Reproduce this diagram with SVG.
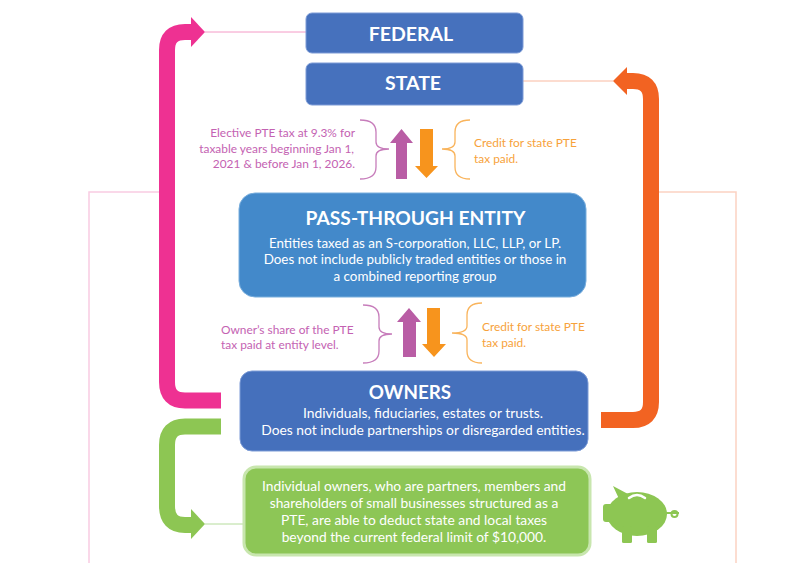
<svg xmlns="http://www.w3.org/2000/svg" width="806" height="563" viewBox="0 0 806 563">
<style>
.t{font-family:Lato,"Open Sans","Liberation Sans",sans-serif;}
.title{font-weight:bold;fill:#fff;text-anchor:middle;}
.sub{fill:#fff;text-anchor:middle;font-size:13.8px;}
.pt{fill:#C462B2;font-size:11.9px;}
.ot{fill:#F7A23B;font-size:11.9px;}
.band{fill:none;stroke-width:16;stroke-linejoin:round;}
.thin{fill:none;stroke-width:1;}
.brace{fill:none;stroke-width:1.3;}
.pig{fill:#8DC653;}
</style>
<rect width="806" height="563" fill="#fff"/>
<g id="connectors">
  <path d="M160 192 H89 V563" fill="none" stroke="#F9CCE2" stroke-width="1.5"/>
  <path d="M659 192 H736 V563" fill="none" stroke="#FCD2C2" stroke-width="1.5"/>
  <path class="thin" d="M205 32 H306" stroke="#F49AC6"/>
  <path class="thin" d="M523 81 H613" stroke="#F9B9A0"/>
  <path class="thin" d="M205 524 H244" stroke="#B5DC9C"/>
  <path class="band" stroke="#EE3192" d="M221 400.5 H185 Q167 400.5 167 382 V50 Q167 32 185 32 H192"/>
  <polygon fill="#EE3192" points="191,17 205,32 191,47"/>
  <path class="band" stroke="#8DC653" d="M221 426.5 H185 Q167 426.5 167 445 V506 Q167 525 185 525 H192"/>
  <polygon fill="#8DC653" points="191,509 205,524 191,539"/>
  <path class="band" stroke="#F26322" d="M601 420 H633 Q651 420 651 402 V99 Q651 81 633 81 H626"/>
  <polygon fill="#F26322" points="627,67 613,81 627,95"/>
  <path class="brace" stroke="#C77DBB" d="M360 120 Q376 120 376 132 V142 Q376 149 389 149 Q376 149 376 156 V167 Q376 179 360 179"/>
  <path class="brace" stroke="#F9B45C" d="M470 120 Q455 120 455 132 V142 Q455 149 442 149 Q455 149 455 156 V167 Q455 179 470 179"/>
  <path class="brace" stroke="#C77DBB" d="M363 305 Q379 305 379 317 V327 Q379 334 392 334 Q379 334 379 341 V351 Q379 363 363 363"/>
  <path class="brace" stroke="#F9B45C" d="M482 303 Q467 303 467 315 V326 Q467 333 452 333 Q467 333 467 340 V351 Q467 363 482 363"/>
  <polygon fill="#B95DA5" points="390,143 401.5,129 413,143 407,143 407,179 396,179 396,143"/>
  <polygon fill="#F7941D" points="420,129 433,129 433,166 438,166 426.5,178 415,166 420,166"/>
  <polygon fill="#B95DA5" points="397,322 409,308 421,322 416,322 416,357 403,357 403,322"/>
  <polygon fill="#F7941D" points="427,308 440,308 440,344 446,344 434,357 422,344 427,344"/>
</g>
<g id="federal">
  <rect x="306" y="13" width="217" height="40" rx="6" fill="#4671BD" stroke="#7C9BD6" stroke-width="1"/>
  <text class="t title" x="411" y="41" font-size="19.5">FEDERAL</text>
</g>
<g id="state">
  <rect x="306" y="63" width="217" height="42" rx="6" fill="#4671BD" stroke="#7C9BD6" stroke-width="1"/>
  <text class="t title" x="413" y="90" font-size="19.5">STATE</text>
</g>
<g id="state-labels">
  <text class="t pt" text-anchor="end"><tspan x="355" y="137">Elective PTE tax at 9.3% for</tspan><tspan x="354" y="152.5">taxable years beginning Jan 1,</tspan><tspan x="355" y="168">2021 &amp; before Jan 1, 2026.</tspan></text>
  <text class="t ot"><tspan x="474" y="147">Credit for state PTE</tspan><tspan x="474" y="163">tax paid.</tspan></text>
</g>
<g id="pass-through-entity">
  <rect x="239" y="193" width="347" height="104" rx="16" fill="#4389CA" stroke="#79AEDD" stroke-width="1"/>
  <text class="t title" x="415.5" y="225" font-size="19.2">PASS-THROUGH ENTITY</text>
  <text class="t sub" style="font-size:13.4px"><tspan x="415" y="248">Entities taxed as an S-corporation, LLC, LLP, or LP.</tspan><tspan x="415" y="264">Does not include publicly traded entities or those in</tspan><tspan x="415" y="280.5">a combined reporting group</tspan></text>
</g>
<g id="entity-labels">
  <text class="t pt"><tspan x="221" y="334">Owner’s share of the PTE</tspan><tspan x="221" y="348.5">tax paid at entity level.</tspan></text>
  <text class="t ot"><tspan x="482" y="331">Credit for state PTE</tspan><tspan x="482" y="347">tax paid.</tspan></text>
</g>
<g id="owners">
  <rect x="240" y="371" width="348" height="80" rx="12" fill="#4570BC" stroke="#7C9BD6" stroke-width="1"/>
  <text class="t title" x="410" y="399" font-size="18.8">OWNERS</text>
  <text class="t sub"><tspan x="423" y="418">Individuals, fiduciaries, estates or trusts.</tspan><tspan x="423" y="435">Does not include partnerships or disregarded entities.</tspan></text>
</g>
<g id="benefit">
  <rect x="244" y="467" width="346" height="88" rx="12" fill="#8DC656" stroke="#C8E6AE" stroke-width="3"/>
  <text class="t sub"><tspan x="414" y="491">Individual owners, who are partners, members and</tspan><tspan x="414" y="508">shareholders of small businesses structured as a</tspan><tspan x="414" y="525">PTE, are able to deduct state and local taxes</tspan><tspan x="414" y="542">beyond the current federal limit of $10,000.</tspan></text>
</g>
<g id="piggy-bank">
  <ellipse class="pig" cx="637" cy="514" rx="30" ry="22"/>
  <rect class="pig" x="603" y="504" width="11" height="18" rx="3"/>
  <polygon class="pig" points="613,486 628,494 620,501"/>
  <rect class="pig" x="622" y="526" width="10" height="17" rx="1.5"/>
  <rect class="pig" x="647" y="526" width="10" height="17" rx="1.5"/>
  <path d="M629 498 Q637 492 645 498" fill="none" stroke="#fff" stroke-width="2.5" stroke-linecap="round"/>
  <path d="M665 513 H679" fill="none" stroke="#8DC653" stroke-width="2"/>
  <circle cx="674.5" cy="514" r="3" fill="none" stroke="#8DC653" stroke-width="2"/>
</g>
</svg>
